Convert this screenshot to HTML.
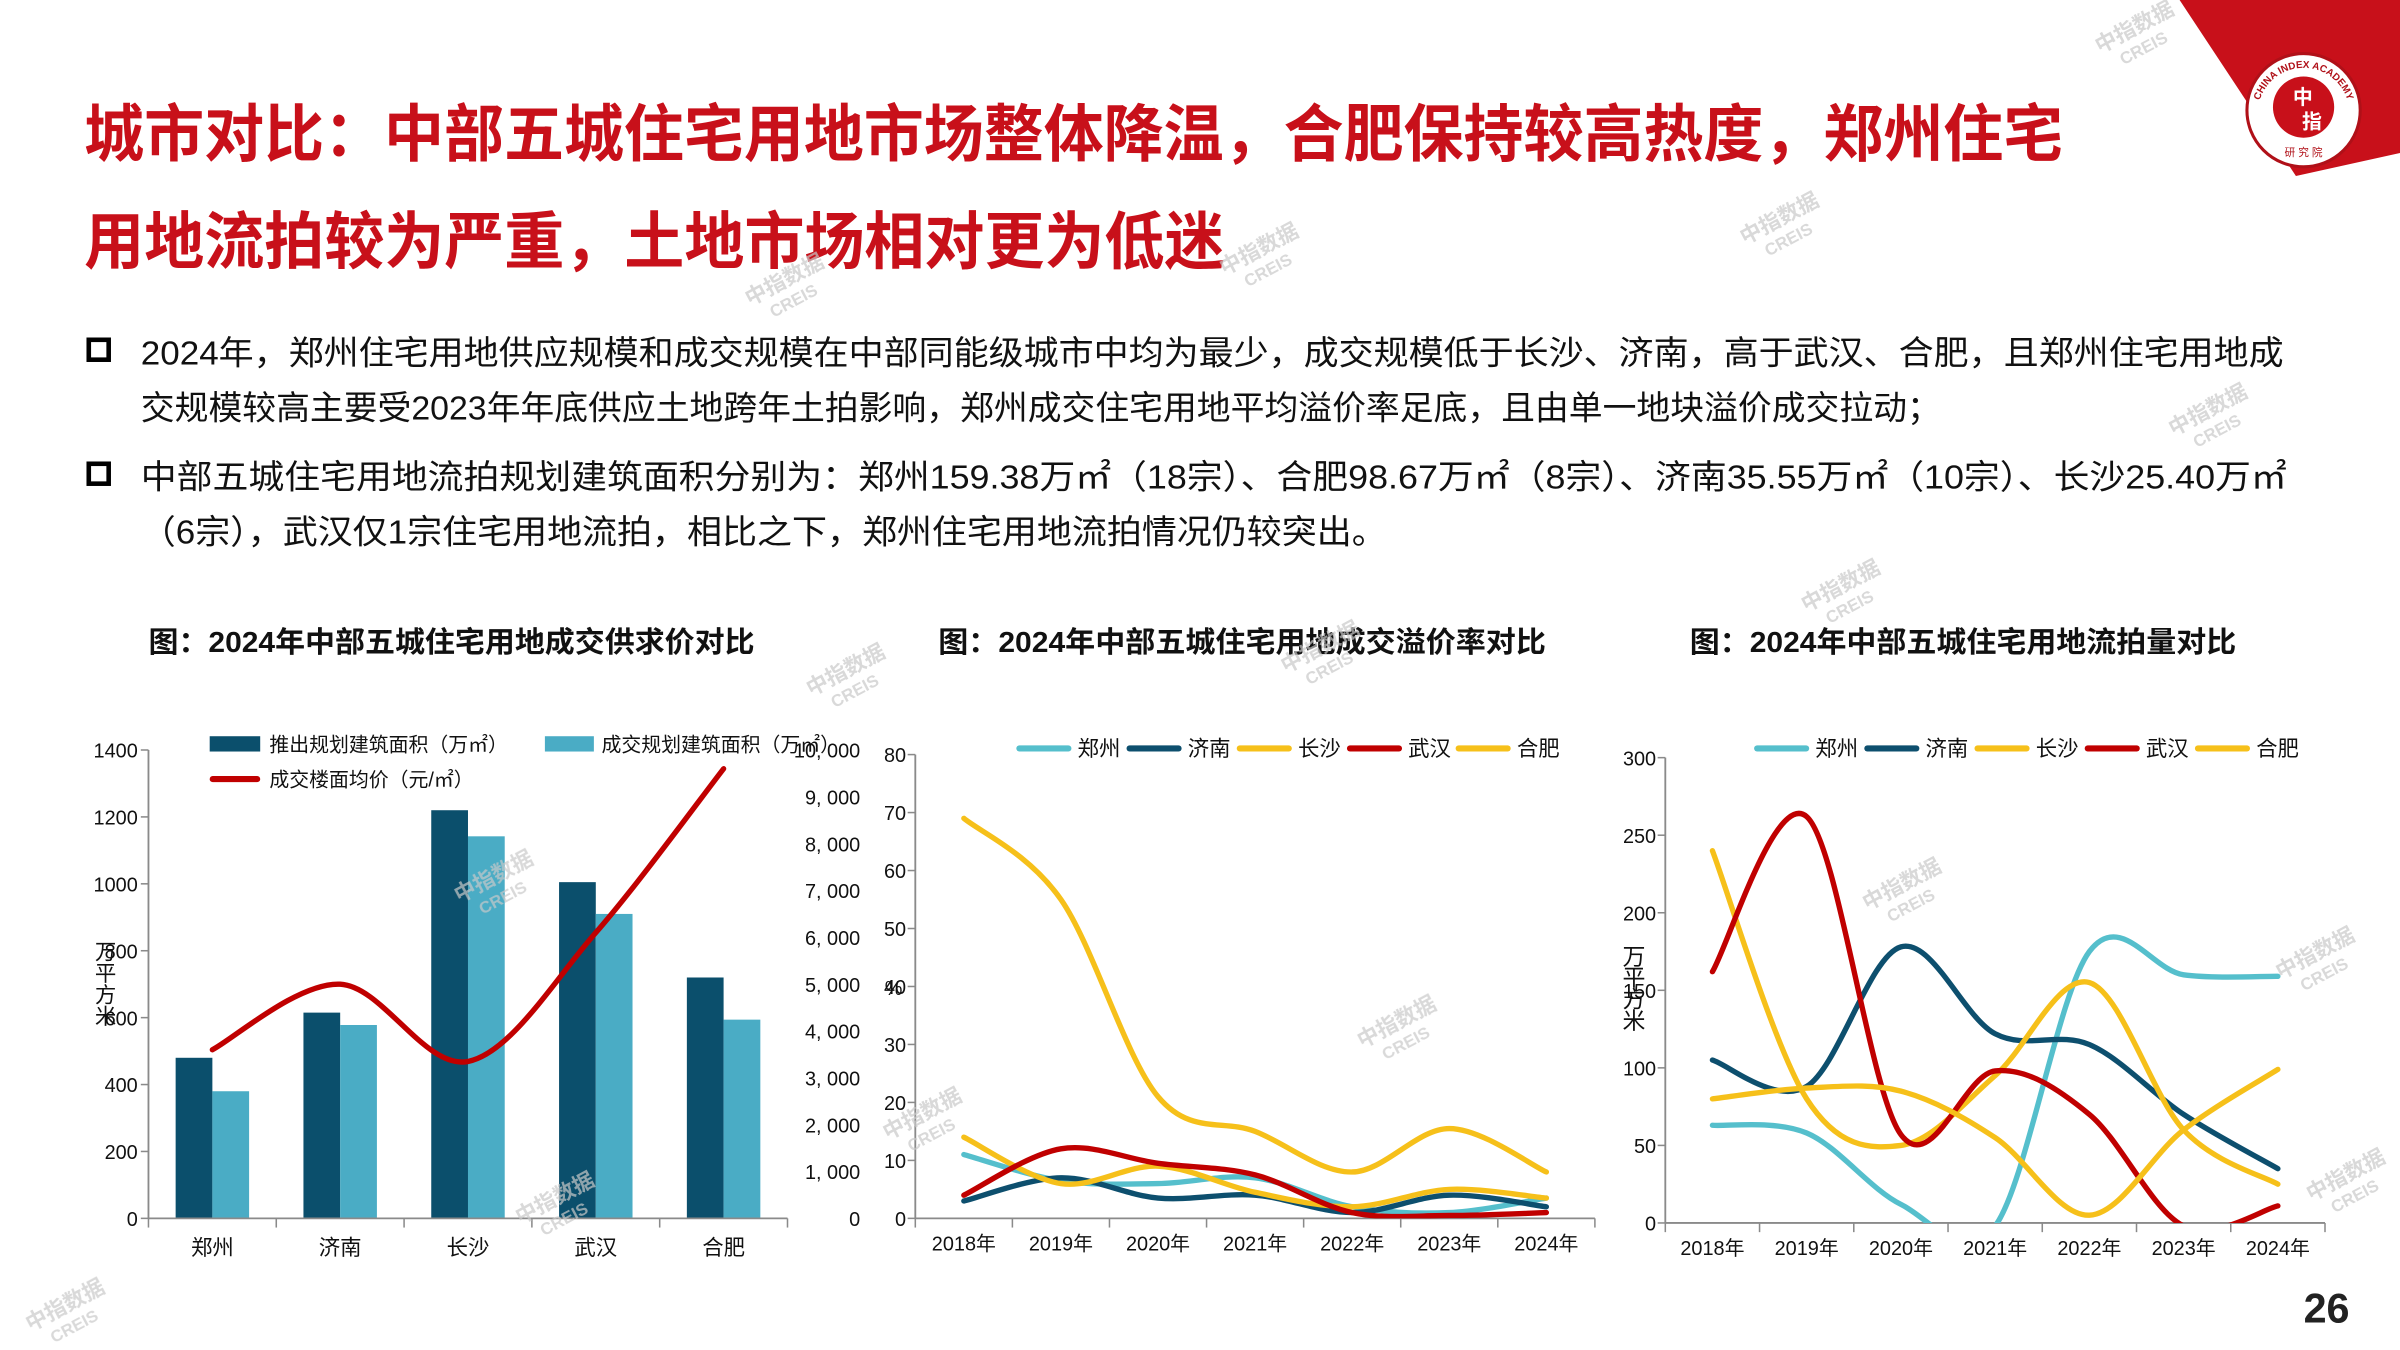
<!DOCTYPE html>
<html><head><meta charset="utf-8"><style>
html,body{margin:0;padding:0;background:#fff;}
#root{width:2400px;height:1350px;position:relative;overflow:hidden;}
svg{display:block;}
text{font-family:"Liberation Sans","Noto Sans CJK SC",sans-serif;}
</style></head><body><div id="root">
<svg id="s" width="2400" height="1350" viewBox="0 0 1568 882" xmlns="http://www.w3.org/2000/svg">
<polygon points="1424,0 1568,0 1568,100 1500,115" fill="#c8101a"/>
<circle cx="1505" cy="72" r="37" fill="#fff" stroke="#b01018" stroke-width="2"/>
<circle cx="1505" cy="70" r="20" fill="#c8101a"/>
<text x="1498" y="68" font-size="13" fill="#fff" font-weight="bold">中</text>
<text x="1504" y="84" font-size="13" fill="#fff" font-weight="bold">指</text>
<text x="1505" y="102" font-size="7" fill="#b01018" text-anchor="middle">研 究 院</text>
<defs><path id="arc" d="M1476,82 A30,30 0 1 1 1534,82"/></defs>
<text font-size="6.5" fill="#b01018" font-weight="bold" font-family="Liberation Serif"><textPath href="#arc" startOffset="50%" text-anchor="middle">CHINA INDEX ACADEMY</textPath></text>

<g fill="#c8101a" font-weight="bold" font-size="41">
<text x="55" y="102" textLength="1293" lengthAdjust="spacingAndGlyphs">城市对比：中部五城住宅用地市场整体降温，合肥保持较高热度，郑州住宅</text>
<text x="55" y="172" textLength="745" lengthAdjust="spacingAndGlyphs">用地流拍较为严重，土地市场相对更为低迷</text>
</g>
<g fill="#111" font-size="22">
<rect x="58" y="222" width="13" height="13" fill="none" stroke="#000" stroke-width="3"/>
<rect x="58" y="303" width="13" height="13" fill="none" stroke="#000" stroke-width="3"/>
<text x="92" y="238" textLength="1400" lengthAdjust="spacingAndGlyphs">2024年，郑州住宅用地供应规模和成交规模在中部同能级城市中均为最少，成交规模低于长沙、济南，高于武汉、合肥，且郑州住宅用地成</text>
<text x="92" y="274" textLength="1176" lengthAdjust="spacingAndGlyphs">交规模较高主要受2023年年底供应土地跨年土拍影响，郑州成交住宅用地平均溢价率足底，且由单一地块溢价成交拉动；</text>
<text x="92" y="319" textLength="1402" lengthAdjust="spacingAndGlyphs">中部五城住宅用地流拍规划建筑面积分别为：郑州159.38万㎡（18宗）、合肥98.67万㎡（8宗）、济南35.55万㎡（10宗）、长沙25.40万㎡</text>
<text x="92" y="355" textLength="814" lengthAdjust="spacingAndGlyphs">（6宗），武汉仅1宗住宅用地流拍，相比之下，郑州住宅用地流拍情况仍较突出。</text>
</g>
<g fill="#111" font-size="19" font-weight="bold">
<text x="97" y="426" textLength="396" lengthAdjust="spacingAndGlyphs">图：2024年中部五城住宅用地成交供求价对比</text>
<text x="613" y="426" textLength="397" lengthAdjust="spacingAndGlyphs">图：2024年中部五城住宅用地成交溢价率对比</text>
<text x="1104" y="426" textLength="357" lengthAdjust="spacingAndGlyphs">图：2024年中部五城住宅用地流拍量对比</text>
</g>
<text x="1505" y="864" font-size="27" font-weight="bold" fill="#222">26</text>
<g id="charts"></g>
<g id="wm" fill="#c9c9c9" font-size="14" font-weight="bold" opacity="0.7"></g>
</svg>
<script>
var NS="http://www.w3.org/2000/svg",C=document.getElementById('charts');
function el(t,a,txt,p){var e=document.createElementNS(NS,t);for(var k in a)e.setAttribute(k,a[k]);if(txt!=null)e.textContent=txt;(p||C).appendChild(e);return e;}
function smooth(pts){var d="M"+pts[0][0]+","+pts[0][1];for(var i=0;i<pts.length-1;i++){var p0=pts[i-1]||pts[i],p1=pts[i],p2=pts[i+1],p3=pts[i+2]||p2;var c1=[p1[0]+(p2[0]-p0[0])/6,p1[1]+(p2[1]-p0[1])/6],c2=[p2[0]-(p3[0]-p1[0])/6,p2[1]-(p3[1]-p1[1])/6];d+=" C"+c1[0]+","+c1[1]+" "+c2[0]+","+c2[1]+" "+p2[0]+","+p2[1];}return d;}
var AX="#8a8a8a";
(function(){var x0=97,cw=83.5,x1=x0+cw*5,y0=796,yt=490;
 function Y(v){return y0-(y0-yt)*v/1400;}
 var d=[[480,380],[615,578],[1220,1142],[1005,910],[720,594]],n=["郑州","济南","长沙","武汉","合肥"];
 for(var i=0;i<5;i++){var cx=x0+cw*(i+0.5);
  el('rect',{x:cx-24,y:Y(d[i][0]),width:24,height:y0-Y(d[i][0]),fill:"#0b4f6c"});
  el('rect',{x:cx,y:Y(d[i][1]),width:24,height:y0-Y(d[i][1]),fill:"#4aacc5"});
  el('text',{x:cx,y:820,"font-size":14,"text-anchor":"middle",fill:"#111"},n[i]);}
 el('line',{x1:x0,y1:yt,x2:x0,y2:y0,stroke:AX,"stroke-width":1.2});
 el('line',{x1:x0,y1:y0,x2:x1,y2:y0,stroke:AX,"stroke-width":1.2});
 for(var i=0;i<=5;i++)el('line',{x1:x0+cw*i,y1:y0,x2:x0+cw*i,y2:y0+6,stroke:AX});
 for(var v=0;v<=1400;v+=200){el('line',{x1:x0-5,y1:Y(v),x2:x0,y2:Y(v),stroke:AX});el('text',{x:90,y:Y(v)+5,"font-size":13,"text-anchor":"end",fill:"#111"},v);}
 for(var v=0;v<=10000;v+=1000){var s=v==0?"0":(Math.floor(v/1000)+", 000");el('text',{x:562,y:y0-(y0-yt)*v/10000+5,"font-size":13,"text-anchor":"end",fill:"#111"},s);}
 var pr=[3600,5000,3350,6100,9600],pts=[];for(var i=0;i<5;i++)pts.push([x0+cw*(i+0.5),y0-(y0-yt)*pr[i]/10000]);
 el('path',{d:smooth(pts),fill:"none",stroke:"#c00000","stroke-width":3.5,"stroke-linecap":"round"});
 el('rect',{x:137,y:481,width:33,height:10,fill:"#0b4f6c"});el('text',{x:176,y:491,"font-size":13,fill:"#111"},"推出规划建筑面积（万㎡）");
 el('rect',{x:356,y:481,width:32,height:10,fill:"#4aacc5"});el('text',{x:393,y:491,"font-size":13,fill:"#111"},"成交规划建筑面积（万㎡）");
 el('line',{x1:139,y1:509,x2:168,y2:509,stroke:"#c00000","stroke-width":4,"stroke-linecap":"round"});el('text',{x:176,y:514,"font-size":13,fill:"#111"},"成交楼面均价（元/㎡）");
 var t=["万","平","方","米"];for(var i=0;i<4;i++)el('text',{x:62,y:627+i*14,"font-size":14,fill:"#111"},t[i]);
})();
function lineChart(o){var Y=function(v){return o.y0-(o.y0-o.yt)*v/o.max;},cw=(o.x1-o.x0)/7;
 el('line',{x1:o.x0,y1:o.yt,x2:o.x0,y2:o.y0,stroke:AX,"stroke-width":1.2});
 el('line',{x1:o.x0,y1:o.y0,x2:o.x1,y2:o.y0,stroke:AX,"stroke-width":1.2});
 for(var i=0;i<=7;i++)el('line',{x1:o.x0+cw*i,y1:o.y0,x2:o.x0+cw*i,y2:o.y0+6,stroke:AX});
 for(var v=0;v<=o.max;v+=o.step){el('line',{x1:o.x0-5,y1:Y(v),x2:o.x0,y2:Y(v),stroke:AX});el('text',{x:o.x0-6,y:Y(v)+5,"font-size":13,"text-anchor":"end",fill:"#111"},v);}
 for(var i=0;i<7;i++)el('text',{x:o.x0+cw*(i+0.5),y:o.y0+21,"font-size":13,"text-anchor":"middle",fill:"#111"},(2018+i)+"年");
 var cid="c"+o.x0;var cp=el('clipPath',{id:cid});el('rect',{x:o.x0,y:o.yt-10,width:o.x1-o.x0,height:o.y0-o.yt+10},null,cp);
 var g=el('g',{"clip-path":"url(#"+cid+")"});
 o.series.forEach(function(s){var pts=s.d.map(function(v,i){return [o.x0+cw*(i+0.5),Y(v)];});
  el('path',{d:smooth(pts),fill:"none",stroke:s.c,"stroke-width":3.5,"stroke-linecap":"round"},null,g);});
 o.series.forEach(function(s,i){var lx=o.lx[i];el('line',{x1:lx,y1:o.ly,x2:lx+32,y2:o.ly,stroke:s.c,"stroke-width":4,"stroke-linecap":"round"});el('text',{x:lx+38,y:o.ly+5,"font-size":14,fill:"#111"},s.n);});
}
var T="#55bfcc",D="#0d4f6e",Yl="#f6c01a",R="#c00000";
lineChart({x0:598,x1:1042,y0:796,yt:493,max:80,step:10,ly:489,lx:[666,738,810,882,953],series:[
 {n:"郑州",c:T,d:[11,6.5,6,7,2,1,3.5]},{n:"济南",c:D,d:[3,7,3.5,4,1,4,2]},{n:"长沙",c:Yl,d:[14,6,9,4.5,2,5,3.5]},{n:"武汉",c:R,d:[4,12,9.5,7.5,1,0.5,1]},{n:"合肥",c:Yl,d:[69,55,21,15,8,15.5,8]}]});
el('text',{x:578,y:650,"font-size":13,fill:"#111"},"%");
lineChart({x0:1088,x1:1519,y0:799,yt:495,max:300,step:50,ly:489,lx:[1148,1220,1292,1364,1436],series:[
 {n:"郑州",c:T,d:[63,58,12,-2,175,160,159]},{n:"济南",c:D,d:[105,88,178,122,115,70,35]},{n:"长沙",c:Yl,d:[240,80,50,95,155,60,25]},{n:"武汉",c:R,d:[162,262,57,98,70,-2,11]},{n:"合肥",c:Yl,d:[80,87,85,55,5,60,99]}]});
var t=["万","平","方","米"];for(var i=0;i<4;i++)el('text',{x:1060,y:630+i*14,"font-size":15,fill:"#111"},t[i]);
var W=document.getElementById('wm');
[[1372,35],[490,200],[800,180],[1140,160],[1420,285],[530,455],[840,440],[1180,400],[300,590],[1220,595],[1490,640],[890,685],[580,745],[340,800],[1510,785],[20,870]].forEach(function(p){
 var g=el('g',{transform:"translate("+p[0]+","+p[1]+") rotate(-28)"},null,W);el('text',{x:0,y:0},"中指数据",g);el('text',{x:10,y:14,"font-size":11},"CREIS",g);});
</script>
</div></body></html>
